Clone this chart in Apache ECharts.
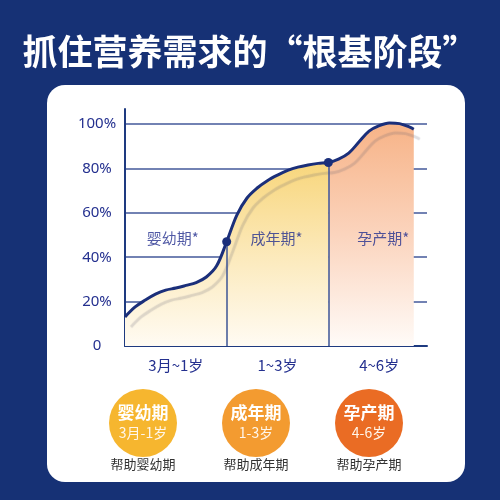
<!DOCTYPE html>
<html>
<head>
<meta charset="utf-8">
<script src="https://cdn.jsdelivr.net/npm/echarts@6/dist/echarts.min.js"></script>
<style>html,body{margin:0;padding:0;background:#163175;}#c{width:500px;height:500px;}</style>
</head>
<body>
<div id="c"></div>
<script>
// ---- data ----
const titleText = '抓住营养需求的“根基阶段”';
const curveX = [0, 0.1, 0.2, 0.3, 0.4, 0.5, 0.6, 0.7, 0.8, 0.9, 1.0, 1.1, 1.2, 1.3, 1.4, 1.5, 1.6, 1.7, 1.8, 1.9, 2.0, 2.1, 2.2, 2.3, 2.4, 2.5, 2.6, 2.7, 2.8, 2.84];
const curveY = [13.1, 17.6, 20.7, 23.4, 25.2, 26.1, 27.3, 28.6, 31.1, 36.0, 47.0, 59.0, 66.7, 71.2, 74.5, 77.0, 79.1, 80.6, 81.6, 82.3, 82.7, 84.2, 86.9, 91.9, 96.8, 99.3, 100.5, 100.2, 98.6, 97.7];
const splitIndex = 20; // point where the 孕产期 section starts
const dotIndices = [10, 20];
const xTickLabels = ['3月~1岁', '1~3岁', '4~6岁'];
const xTickPositions = [0.5, 1.5, 2.5];
const yTickValues = [0, 20, 40, 60, 80, 100];
const yTickLabels = ['0', '20%', '40%', '60%', '80%', '100%'];
const sectionNames = ['婴幼期*', '成年期*', '孕产期*'];
const sectionLabelX = [0.47, 1.49, 2.54];
const sectionLabelY = 48.6;
const stageNames = ['婴幼期', '成年期', '孕产期'];
const stageRanges = ['3月-1岁', '1-3岁', '4-6岁'];
const helpLabels = ['帮助婴幼期', '帮助成年期', '帮助孕产期'];

// ---- build ----
const pts = curveX.map((x, i) => [x, curveY[i]]);
const ptsA = pts.slice(0, splitIndex + 1);
const ptsB = pts.slice(splitIndex);
const dots = dotIndices.map(i => pts[i]);
const navy = '#1b2f7a';
const textBlue = '#24308f';
const circleColors = ['#f6b62f', '#f39b30', '#ea6c24'];

const chart = echarts.init(document.getElementById('c'), null, {renderer: 'canvas'});
const fontCJK = '"Noto Sans CJK SC", "Noto Sans", sans-serif';

chart.setOption({
  backgroundColor: '#163175',
  textStyle: {fontFamily: fontCJK},
  title: {
    text: titleText, left: 'center', top: 29,
    textStyle: {color: '#ffffff', fontSize: 35, fontWeight: 'bold', fontFamily: fontCJK}
  },
  graphic: [{
    type: 'rect', z: -10, silent: true,
    shape: {x: 47, y: 85, width: 418, height: 397, r: 18},
    style: {fill: '#ffffff'}
  }],
  grid: [
    {left: 125, right: 73, top: 109, bottom: 154},
    {left: 86.5, width: 339, top: 400, height: 46}
  ],
  xAxis: [{
    type: 'value', gridIndex: 0, min: 0, max: 2.97, interval: 0.5,
    axisLine: {show: true, lineStyle: {color: '#1e3a80', width: 2}},
    axisTick: {show: false}, splitLine: {show: false},
    axisLabel: {
      color: textBlue, fontSize: 15, margin: 12, fontFamily: fontCJK, showMaxLabel: false,
      formatter: v => { const k = xTickPositions.findIndex(p => Math.abs(p - v) < 1e-6); return k >= 0 ? xTickLabels[k] : ''; }
    }
  }, {
    type: 'category', gridIndex: 1, data: helpLabels,
    axisLine: {show: false}, axisTick: {show: false},
    axisLabel: {color: '#333333', fontSize: 13, margin: 12, fontFamily: fontCJK}
  }],
  yAxis: [{
    type: 'value', gridIndex: 0, min: 0, max: 106.8, interval: 20,
    axisLine: {show: true, lineStyle: {color: '#1e3a80', width: 2}},
    axisTick: {show: false},
    splitLine: {show: true, showMaxLine: false, lineStyle: {color: '#43599a', width: 1.5}},
    axisLabel: {
      color: textBlue, fontSize: 15, margin: 28, align: 'center', showMaxLabel: false,
      fontFamily: '"Noto Sans", sans-serif',
      formatter: v => { const k = yTickValues.indexOf(v); return k >= 0 ? yTickLabels[k] : ''; }
    }
  }, {
    type: 'value', gridIndex: 1, min: 0, max: 1, show: false
  }],
  series: [
    {
      type: 'line', xAxisIndex: 0, yAxisIndex: 0, data: ptsA, smooth: 0.35,
      showSymbol: false, silent: true, z: 1, lineStyle: {width: 0},
      areaStyle: {opacity: 1, color: {type: 'linear', x: 0, y: 0, x2: 0, y2: 1,
        colorStops: [{offset: 0, color: '#f8d67c'}, {offset: 0.55, color: '#fcebc0'}, {offset: 1, color: '#fffbf3'}]}}
    },
    {
      type: 'line', xAxisIndex: 0, yAxisIndex: 0, data: ptsB, smooth: 0.35,
      showSymbol: false, silent: true, z: 1, lineStyle: {width: 0},
      areaStyle: {opacity: 1, color: {type: 'linear', x: 0, y: 0, x2: 0, y2: 1,
        colorStops: [{offset: 0, color: '#f7b387'}, {offset: 0.5, color: '#fbd4bd'}, {offset: 1, color: '#fffbf8'}]}}
    },
    {
      type: 'line', xAxisIndex: 0, yAxisIndex: 0, data: pts, smooth: 0.35,
      showSymbol: false, silent: true, z: 3,
      lineStyle: {color: navy, width: 3, shadowColor: 'rgba(90,90,110,0.2)', shadowBlur: 1, shadowOffsetX: 6, shadowOffsetY: 10},
      markLine: {
        silent: true, symbol: 'none', label: {show: false},
        lineStyle: {color: '#3d5595', width: 1.5, type: 'solid'},
        data: dots.map(d => [{coord: [d[0], 0]}, {coord: [d[0], d[1]]}])
      }
    },
    {
      type: 'scatter', xAxisIndex: 0, yAxisIndex: 0, data: dots, symbolSize: 9,
      itemStyle: {color: navy, opacity: 1}, z: 5, silent: true
    },
    {
      type: 'scatter', xAxisIndex: 0, yAxisIndex: 0, symbolSize: 0, silent: true, z: 6,
      data: sectionNames.map((n, i) => ({value: [sectionLabelX[i], sectionLabelY], name: n})),
      label: {show: true, position: 'inside', formatter: p => p.name, color: textBlue, fontSize: 15, fontFamily: fontCJK}
    },
    {
      type: 'scatter', xAxisIndex: 1, yAxisIndex: 1, symbolSize: 68, silent: true,
      data: stageNames.map((n, i) => ({value: [i, 0.5], name: n, itemStyle: {color: circleColors[i], opacity: 1},
        label: {formatter: '{a|' + n + '}\n{b|' + stageRanges[i] + '}'}})),
      label: {
        show: true, position: 'inside',
        rich: {
          a: {color: '#ffffff', fontSize: 17, fontWeight: 'bold', lineHeight: 20, fontFamily: fontCJK},
          b: {color: '#fff6ea', fontSize: 14, lineHeight: 20, fontFamily: fontCJK}
        }
      }
    }
  ]
});
</script>
</body>
</html>
